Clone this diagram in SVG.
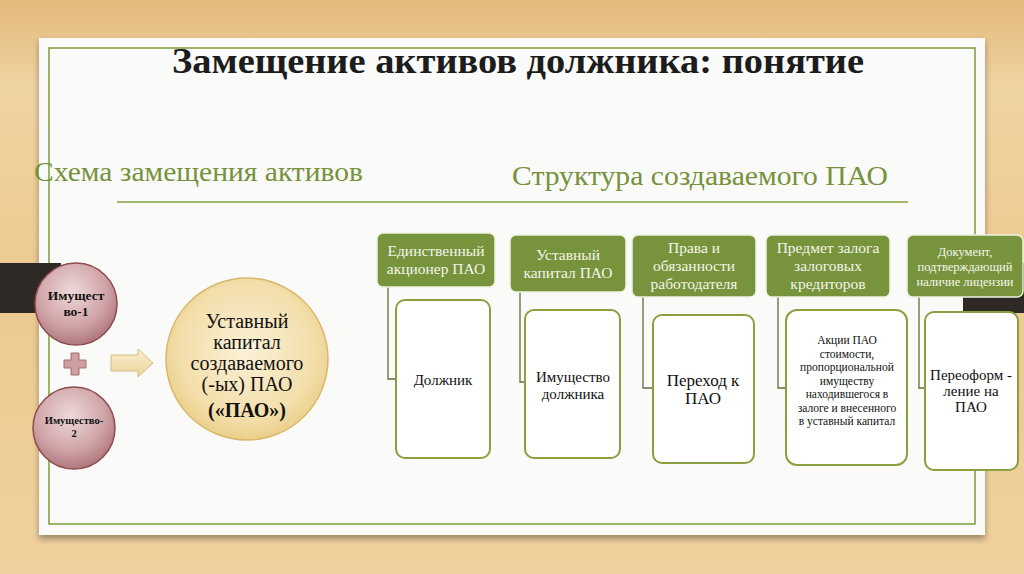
<svg xmlns="http://www.w3.org/2000/svg" width="1024" height="574" viewBox="0 0 1024 574">
<defs>
<linearGradient id="wood" x1="0" y1="0" x2="0" y2="1">
<stop offset="0" stop-color="#e3b87a"/><stop offset="0.15" stop-color="#f0d3a3"/><stop offset="0.5" stop-color="#ecc98f"/><stop offset="1" stop-color="#efd19f"/>
</linearGradient>
<radialGradient id="pink" cx="0.45" cy="0.35" r="0.7">
<stop offset="0" stop-color="#eed9da"/><stop offset="0.6" stop-color="#d0a4a7"/><stop offset="1" stop-color="#a86f74"/>
</radialGradient>
<radialGradient id="gold" cx="0.5" cy="0.45" r="0.6">
<stop offset="0" stop-color="#fbf1d8"/><stop offset="0.7" stop-color="#f3deaa"/><stop offset="1" stop-color="#e8c97f"/>
</radialGradient>
<linearGradient id="arrowg" x1="0" y1="0" x2="0" y2="1">
<stop offset="0" stop-color="#fbefcf"/><stop offset="1" stop-color="#ecd49a"/>
</linearGradient>
<filter id="sh" x="-5%" y="-5%" width="110%" height="115%">
<feDropShadow dx="0" dy="4" stdDeviation="3" flood-color="#000" flood-opacity="0.35"/>
</filter>
</defs>
<style>
.serif{font-family:"Liberation Serif","Times New Roman",serif;}
.hdr{fill:#77933c;stroke:#eef2e0;stroke-width:1.5;}
.hdrt{font-family:"Liberation Serif","Times New Roman",serif;fill:#f4f6ea;text-anchor:middle;}
.body{fill:#ffffff;stroke:#8aa040;stroke-width:2;}
.bt{font-family:"Liberation Serif","Times New Roman",serif;fill:#111;text-anchor:middle;}
.conn{fill:none;stroke:#5f6f38;stroke-width:1.3;}
.sub{font-family:"Liberation Serif","Times New Roman",serif;fill:#76923c;font-size:27px;}
</style>
<rect x="0" y="0" width="1024" height="574" fill="url(#wood)"/>
<rect x="39" y="38" width="946" height="497" fill="#fafaf8" filter="url(#sh)"/>
<rect x="49" y="48" width="926" height="476" fill="none" stroke="#7f9a3c" stroke-width="1.5"/>
<rect x="0" y="263" width="61" height="50" fill="#2e2924"/>
<rect x="963" y="263" width="61" height="50" fill="#2e2924"/>
<text class="serif" x="518" y="73" font-size="36" font-weight="bold" fill="#1c1c1c" text-anchor="middle" textLength="692" lengthAdjust="spacingAndGlyphs">Замещение активов должника: понятие</text>
<text class="sub" x="34" y="181" textLength="329" lengthAdjust="spacingAndGlyphs">Схема замещения активов</text>
<text class="sub" x="512" y="185" textLength="376" lengthAdjust="spacingAndGlyphs">Структура создаваемого ПАО</text>
<line x1="117" y1="202" x2="908" y2="202" stroke="#86a040" stroke-width="1.5"/>
<g id="prop1">
<circle cx="76" cy="304" r="41" fill="url(#pink)" stroke="#8e4b50" stroke-width="1.5"/>
<text class="serif" x="76" y="300" font-size="13.5" font-weight="bold" fill="#111" text-anchor="middle">Имущест</text>
<text class="serif" x="76" y="316" font-size="13.5" font-weight="bold" fill="#111" text-anchor="middle">во-1</text>
</g>
<g id="plus">
<path d="M71 353 h8 v7 h7 v8 h-7 v7 h-8 v-7 h-7 v-8 h7 z" fill="#cf9ea1" stroke="#a86b70" stroke-width="1"/>
</g>
<g id="prop2">
<circle cx="74" cy="428" r="41" fill="url(#pink)" stroke="#8e4b50" stroke-width="1.5"/>
<text class="serif" x="74" y="424" font-size="10.5" font-weight="bold" fill="#111" text-anchor="middle">Имущество-</text>
<text class="serif" x="74" y="437" font-size="10.5" font-weight="bold" fill="#111" text-anchor="middle">2</text>
</g>
<g id="arrow">
<path d="M111 355 h27 v-6 l15 14 l-15 14 v-6 h-27 z" fill="url(#arrowg)" stroke="#d6bd83" stroke-width="1"/>
</g>
<g id="capital">
<circle cx="247" cy="359" r="81" fill="url(#gold)" stroke="#d9b86a" stroke-width="1.5"/>
<g class="bt" font-size="20" fill="#2a2a2a">
<text x="247" y="328">Уставный</text>
<text x="247" y="349">капитал</text>
<text x="247" y="370">создаваемого</text>
<text x="247" y="391">(-ых) ПАО</text>
<text x="247" y="417" font-weight="bold">(«ПАО»)</text>
</g>
</g>
<g id="connectors">
<path class="conn" d="M388 286 V379 H396"/>
<path class="conn" d="M520 292 V382 H525"/>
<path class="conn" d="M643 297 V388 H653"/>
<path class="conn" d="M778 297 V388 H786"/>
<path class="conn" d="M919 297 V388 H925"/>
</g>
<g id="col1">
<rect class="hdr" x="377" y="233" width="118" height="54" rx="6"/>
<text class="hdrt" x="436" y="256" font-size="15.5">Единственный</text>
<text class="hdrt" x="436" y="274" font-size="15.5">акционер ПАО</text>
<rect class="body" x="396" y="300" width="94" height="158" rx="9"/>
<text class="bt" x="443" y="385" font-size="15">Должник</text>
</g>
<g id="col2">
<rect class="hdr" x="510" y="235" width="116" height="57" rx="6"/>
<text class="hdrt" x="568" y="260" font-size="15.5">Уставный</text>
<text class="hdrt" x="568" y="278" font-size="15.5">капитал ПАО</text>
<rect class="body" x="525" y="310" width="95" height="148" rx="9"/>
<text class="bt" x="573" y="382" font-size="15">Имущество</text>
<text class="bt" x="573" y="399" font-size="15">должника</text>
</g>
<g id="col3">
<rect class="hdr" x="632" y="235" width="124" height="62" rx="6"/>
<text class="hdrt" x="694" y="253" font-size="15.5">Права и</text>
<text class="hdrt" x="694" y="271" font-size="15.5">обязанности</text>
<text class="hdrt" x="694" y="289" font-size="15.5">работодателя</text>
<rect class="body" x="653" y="315" width="101" height="148" rx="9"/>
<text class="bt" x="703" y="386" font-size="17">Переход к</text>
<text class="bt" x="703" y="404" font-size="17">ПАО</text>
</g>
<g id="col4">
<rect class="hdr" x="766" y="235" width="124" height="62" rx="6"/>
<text class="hdrt" x="828" y="253" font-size="15.5">Предмет залога</text>
<text class="hdrt" x="828" y="271" font-size="15.5">залоговых</text>
<text class="hdrt" x="828" y="289" font-size="15.5">кредиторов</text>
<rect class="body" x="786" y="310" width="121" height="155" rx="11"/>
<g class="bt" font-size="11.5">
<text x="847" y="344">Акции ПАО</text>
<text x="847" y="357.5">стоимости,</text>
<text x="847" y="371">пропорциональной</text>
<text x="847" y="384.5">имуществу</text>
<text x="847" y="398">находившегося в</text>
<text x="847" y="411.5">залоге и внесенного</text>
<text x="847" y="425">в уставный капитал</text>
</g>
</g>
<g id="col5">
<rect class="hdr" x="907" y="235" width="116" height="62" rx="6"/>
<text class="hdrt" x="965" y="256" font-size="12.5">Документ,</text>
<text class="hdrt" x="965" y="271" font-size="12.5">подтверждающий</text>
<text class="hdrt" x="965" y="286" font-size="12.5">наличие лицензии</text>
<rect class="body" x="925" y="312" width="93" height="158" rx="9"/>
<text class="bt" x="971" y="380" font-size="15">Переоформ -</text>
<text class="bt" x="971" y="396" font-size="15">ление на</text>
<text class="bt" x="971" y="412" font-size="15">ПАО</text>
</g>
</svg>
